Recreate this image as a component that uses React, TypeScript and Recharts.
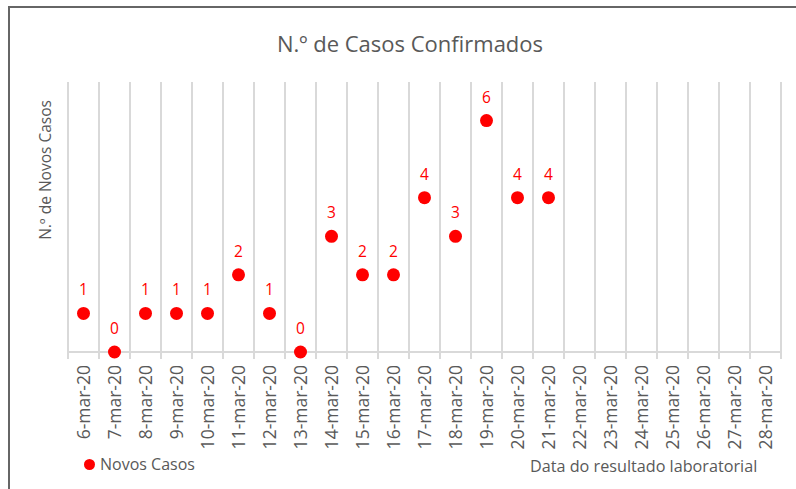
import { LineChart, Line, XAxis, YAxis, CartesianGrid, LabelList } from "recharts";

const dates = [
  "6-mar-20", "7-mar-20", "8-mar-20", "9-mar-20", "10-mar-20", "11-mar-20",
  "12-mar-20", "13-mar-20", "14-mar-20", "15-mar-20", "16-mar-20", "17-mar-20",
  "18-mar-20", "19-mar-20", "20-mar-20", "21-mar-20", "22-mar-20", "23-mar-20",
  "24-mar-20", "25-mar-20", "26-mar-20", "27-mar-20", "28-mar-20",
];
const novosCasos: (number | null)[] = [
  1, 0, 1, 1, 1, 2, 1, 0, 3, 2, 2, 4, 3, 6, 4, 4,
  null, null, null, null, null, null, null,
];

const data = dates.map((d, i) => ({ date: d, casos: novosCasos[i] }));

const W = 796;
const H = 489;
const MARGIN = { top: 82, right: 15, left: 68, bottom: 0 };
const PLOT_W = W - MARGIN.left - MARGIN.right;
const BAND = PLOT_W / dates.length;
const GRID = "#d9d9d9";
const TEXT = "#595959";
const RED = "#ff0000";
const FONT = "'Open Sans', sans-serif";

function DateTick(props: any) {
  const { x, y, payload, index } = props;
  const last = index === dates.length - 1;
  return (
    <g>
      <line x1={x - BAND / 2} x2={x - BAND / 2} y1={y - 8} y2={y - 1} stroke={GRID} strokeWidth={2} />
      {last && <line x1={x + BAND / 2} x2={x + BAND / 2} y1={y - 8} y2={y - 1} stroke={GRID} strokeWidth={2} />}
      <text
        transform={`translate(${x},${y + 5}) rotate(-90)`}
        textAnchor="end"
        dy="0.36em"
        fill={TEXT}
        fontSize={17.5}
        fontFamily={FONT}
      >
        {payload.value}
      </text>
    </g>
  );
}

export default function App() {
  return (
    <div style={{ position: "fixed", left: 0, top: 0, width: W, height: H, overflow: "hidden", background: "#fff", fontFamily: FONT }}>
      <div style={{ position: "absolute", left: 8, top: 6, width: 820, height: 520, border: "2px solid #666" }} />
      <div style={{ position: "absolute", left: 0, top: 0 }}>
        <LineChart width={W} height={H} data={data} margin={MARGIN}>
          <CartesianGrid
            horizontal={false}
            vertical
            stroke={GRID}
            strokeWidth={2}
            verticalCoordinatesGenerator={({ offset }: any) =>
              Array.from({ length: dates.length + 1 }, (_, i) => offset.left + i * (offset.width / dates.length))
            }
          />
          <XAxis
            dataKey="date"
            interval={0}
            height={H - 352}
            padding={{ left: BAND / 2, right: BAND / 2 }}
            axisLine={{ stroke: GRID, strokeWidth: 2 }}
            tickLine={false}
            tick={<DateTick />}
          />
          <YAxis hide domain={[0, 7]} />
          <Line
            dataKey="casos"
            stroke="none"
            isAnimationActive={false}
            dot={{ r: 6.5, fill: RED, stroke: "none" }}
            activeDot={false}
            connectNulls={false}
          >
            <LabelList dataKey="casos" position="top" offset={18} fill={RED} fontSize={15.5} fontFamily={FONT} />
          </Line>
        </LineChart>
      </div>
      <div style={{ position: "absolute", left: 0, width: 820, top: 28, textAlign: "center", fontSize: 22, color: TEXT }}>
        N.º de Casos Confirmados
      </div>
      <div
        style={{
          position: "absolute",
          left: 45,
          top: 170,
          transform: "translate(-50%, -50%) rotate(-90deg)",
          whiteSpace: "nowrap",
          fontSize: 15.5,
          color: TEXT,
        }}
      >
        N.º de Novos Casos
      </div>
      <div style={{ position: "absolute", left: 84, top: 453, display: "flex", alignItems: "center", fontSize: 16, color: TEXT }}>
        <span style={{ width: 11, height: 11, borderRadius: 6, background: RED, marginRight: 5 }} />
        Novos Casos
      </div>
      <div style={{ position: "absolute", left: 530, top: 455, fontSize: 16.2, color: TEXT, whiteSpace: "nowrap" }}>
        Data do resultado laboratorial
      </div>
    </div>
  );
}
